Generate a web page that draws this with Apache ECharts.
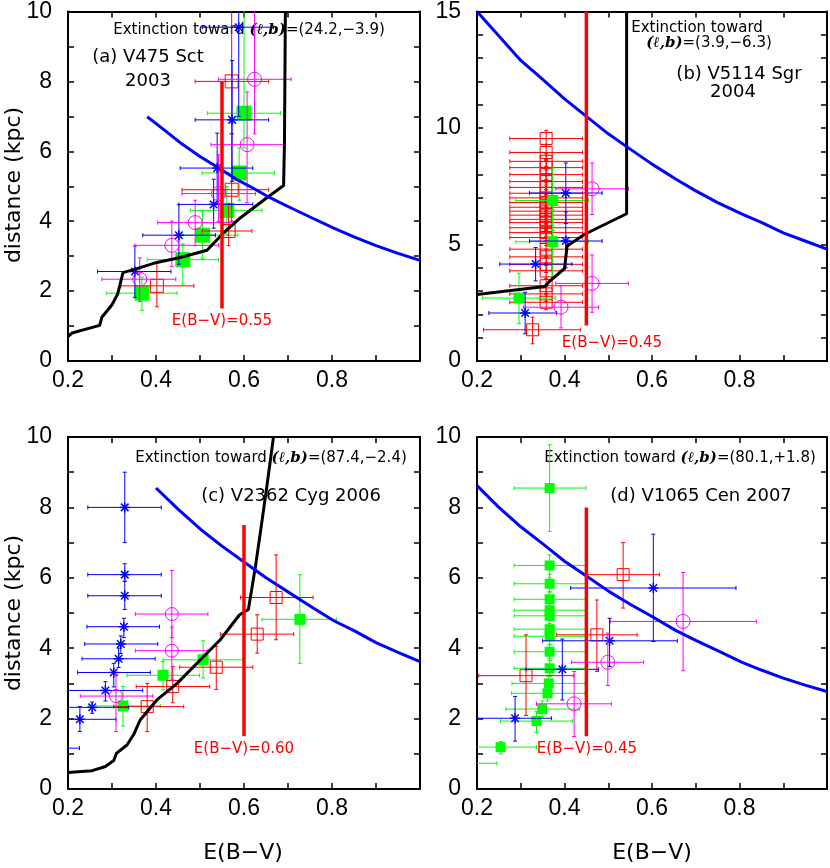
<!DOCTYPE html>
<html>
<head>
<meta charset="utf-8">
<title>Extinction vs distance</title>
<script src="https://cdn.jsdelivr.net/npm/echarts@6/dist/echarts.min.js"></script>
<style>
  *{margin:0;padding:0;}
  body{background:#fff;}
  #main{width:830px;height:868px;}
</style>
</head>
<body>
<div id="main"></div>
<script>
// rows: [E(B-V), distance, xlo, xhi, ylo, yhi]
// (a) V475 Sct
const aExt = [[0.2,0.7],[0.209,0.8],[0.272,1.02],[0.277,1.25],[0.3,1.61],[0.313,1.92],[0.325,2.53],[0.353,2.63],[0.402,2.82],[0.455,2.96],[0.516,3.17],[0.55,3.62],[0.592,4.1],[0.652,4.67],[0.69,5.02],[0.692,6.28],[0.694,10]];
const aCurve = [[0.38,6.99],[0.42,6.6],[0.46,6.2],[0.5,5.85],[0.539,5.55],[0.58,5.22],[0.62,4.95],[0.652,4.72],[0.7,4.42],[0.75,4.12],[0.804,3.8],[0.85,3.55],[0.9,3.3],[0.95,3.08],[1.0,2.88]];
const aEbv = [[0.55,1.5],[0.55,8.0]];
const aGreen = [
  [0.368,1.94,0.287,0.448,1.45,2.4],
  [0.461,2.9,0.38,0.542,2.2,3.35],
  [0.506,3.6,0.459,0.586,2.93,4.27],
  [0.561,4.31,0.478,0.641,3.6,5.0],
  [0.589,5.38,0.505,0.669,4.6,6.1],
  [0.6,7.09,0.517,0.683,6.1,10.5]
];
const aRed = [
  [0.402,2.15,0.32,0.486,1.55,2.8],
  [0.565,3.72,0.505,0.618,3.3,4.5],
  [0.572,4.9,0.459,0.656,4.0,6.5],
  [0.572,8.0,0.489,0.656,6.5,10.5]
];
const aBlue = [
  [0.352,2.56,0.267,0.434,1.82,3.29],
  [0.452,3.6,0.37,0.535,2.77,4.48],
  [0.531,4.48,0.452,0.62,3.8,5.2],
  [0.539,5.52,0.455,0.62,4.5,6.52],
  [0.573,6.9,0.489,0.656,5.14,8.6],
  [0.588,9.55,0.506,0.667,7.0,10.5]
];
const aMag = [
  [0.363,2.34,0.277,0.445,1.7,2.95],
  [0.436,3.31,0.352,0.542,2.7,4.0],
  [0.489,3.96,0.404,0.576,3.3,4.6],
  [0.542,4.79,0.459,0.626,4.0,5.9],
  [0.607,6.19,0.525,0.692,4.53,7.7],
  [0.624,8.06,0.542,0.707,6.5,10.5]
];

// (b) V5114 Sgr
const bExt = [[0.2,2.85],[0.355,3.2],[0.367,3.44],[0.4,3.97],[0.406,4.94],[0.446,5.44],[0.542,6.32],[0.542,15]];
const bCurve = [[0.2,15.0],[0.25,13.95],[0.3,12.9],[0.352,12.05],[0.4,11.25],[0.45,10.5],[0.5,9.75],[0.542,9.2],[0.6,8.45],[0.655,7.8],[0.7,7.3],[0.75,6.8],[0.806,6.3],[0.85,5.95],[0.9,5.5],[0.95,5.15],[1.0,4.8]];
const bEbv = [[0.45,1.52],[0.45,15]];
const bGreen = [
  [0.296,2.7,0.213,0.38,1.6,3.77],
  [0.373,5.12,0.289,0.455,3.6,6.5],
  [0.373,6.89,0.289,0.455,5.6,8.28]
];
const bRed = [
  [0.327,1.34,0.215,0.436,0.74,1.88],
  [0.358,2.52,0.275,0.441,2.2,2.85],
  [0.358,2.88,0.275,0.441,2.55,3.2],
  [0.358,3.23,0.275,0.441,2.9,3.55],
  [0.358,3.87,0.275,0.441,3.5,4.2],
  [0.358,4.15,0.275,0.441,3.8,4.5],
  [0.358,4.47,0.275,0.441,4.1,4.8],
  [0.358,4.8,0.275,0.441,4.45,5.15],
  [0.358,5.3,0.275,0.441,4.95,5.65],
  [0.358,5.51,0.275,0.441,5.15,5.85],
  [0.358,5.72,0.275,0.441,5.35,6.05],
  [0.358,5.94,0.275,0.441,5.6,6.3],
  [0.358,6.08,0.275,0.441,5.75,6.4],
  [0.358,6.26,0.275,0.441,5.9,6.6],
  [0.358,6.43,0.275,0.441,6.1,6.8],
  [0.358,6.6,0.275,0.441,6.25,6.95],
  [0.358,6.8,0.275,0.441,6.45,7.15],
  [0.358,7.0,0.275,0.441,6.65,7.35],
  [0.358,7.2,0.275,0.441,6.85,7.55],
  [0.358,7.45,0.275,0.441,7.1,7.8],
  [0.358,7.7,0.275,0.441,7.35,8.05],
  [0.358,8.0,0.275,0.441,7.65,8.35],
  [0.358,8.3,0.275,0.441,7.95,8.65],
  [0.358,8.57,0.275,0.441,8.2,8.9],
  [0.358,8.95,0.275,0.441,8.6,9.3],
  [0.358,9.55,0.275,0.441,9.2,9.9]
];
const bBlue = [
  [0.31,2.06,0.227,0.382,1.17,2.95],
  [0.334,4.16,0.252,0.417,3.44,4.87],
  [0.403,5.15,0.32,0.486,4.0,6.4],
  [0.403,7.21,0.32,0.486,5.9,8.5]
];
const bMag = [
  [0.392,2.31,0.306,0.478,1.42,3.23],
  [0.463,3.33,0.38,0.546,2.09,4.55],
  [0.463,7.39,0.38,0.546,6.29,8.5]
];

// (c) V2362 Cyg
const cExt = [[0.2,0.47],[0.255,0.52],[0.285,0.64],[0.304,0.81],[0.31,1.01],[0.334,1.25],[0.349,1.54],[0.364,1.96],[0.402,2.53],[0.448,3.0],[0.501,3.67],[0.546,4.24],[0.59,4.95],[0.61,5.1],[0.626,6.32],[0.637,7.27],[0.652,8.6],[0.667,10]];
const cCurve = [[0.4,8.55],[0.45,7.95],[0.501,7.38],[0.55,6.9],[0.6,6.45],[0.65,6.0],[0.7,5.6],[0.75,5.2],[0.804,4.78],[0.85,4.5],[0.9,4.16],[0.95,3.88],[1.0,3.62]];
const cEbv = [[0.6,1.5],[0.6,7.5]];
const cGreen = [
  [0.325,2.36,0.247,0.41,1.79,2.91],
  [0.416,3.23,0.334,0.499,2.82,3.62],
  [0.507,3.67,0.416,0.597,3.15,4.21],
  [0.727,4.82,0.641,0.81,3.57,6.09]
];
const cRed = [
  [0.38,2.34,0.304,0.463,1.63,3.0],
  [0.438,2.91,0.355,0.522,2.45,3.48],
  [0.537,3.46,0.454,0.62,2.83,4.05],
  [0.63,4.4,0.546,0.713,3.86,4.95],
  [0.673,5.44,0.592,0.757,4.24,6.65]
];
const cBlue = [
  [0.15,1.16,0.07,0.226,0.9,1.4],
  [0.227,1.98,0.14,0.309,1.63,2.34],
  [0.255,2.32,0.17,0.338,2.15,2.47],
  [0.285,2.8,0.19,0.37,2.5,3.05],
  [0.304,3.31,0.222,0.387,2.9,3.57],
  [0.315,3.7,0.232,0.398,3.45,4.0],
  [0.32,4.12,0.238,0.404,3.85,4.35],
  [0.327,4.61,0.243,0.408,4.3,4.85],
  [0.329,5.49,0.245,0.412,5.1,5.9],
  [0.329,6.09,0.245,0.412,5.9,6.4],
  [0.329,8.0,0.245,0.412,7.0,9.0]
];
const cMag = [
  [0.309,2.64,0.228,0.393,1.63,3.24],
  [0.436,3.93,0.353,0.518,3.1,4.6],
  [0.436,4.97,0.353,0.518,4.3,6.21]
];

// (d) V1065 Cen
const dCurve = [[0.2,8.62],[0.25,8.0],[0.3,7.45],[0.352,6.95],[0.4,6.47],[0.45,6.05],[0.503,5.6],[0.55,5.25],[0.6,4.9],[0.655,4.5],[0.7,4.22],[0.75,3.93],[0.806,3.6],[0.85,3.38],[0.9,3.15],[0.95,2.95],[1.0,2.77]];
const dEbv = [[0.45,1.5],[0.45,8.0]];
const dGreen = [
  [0.366,8.55,0.285,0.449,7.32,9.78],
  [0.366,6.35,0.285,0.449,6.0,6.65],
  [0.366,5.83,0.285,0.449,5.6,6.1],
  [0.366,5.39,0.285,0.449,5.1,5.6],
  [0.366,5.08,0.285,0.449,4.85,5.35],
  [0.366,4.92,0.285,0.449,4.7,5.15],
  [0.366,4.54,0.285,0.449,4.3,4.8],
  [0.366,4.34,0.285,0.449,4.1,4.6],
  [0.366,3.9,0.285,0.449,3.7,4.1],
  [0.366,3.43,0.285,0.449,3.2,3.65],
  [0.364,3.0,0.28,0.447,2.8,3.2],
  [0.361,2.72,0.279,0.447,2.5,2.95],
  [0.349,2.27,0.266,0.434,2.05,2.5],
  [0.336,1.93,0.254,0.418,1.6,2.2],
  [0.254,1.19,0.198,0.336,1.0,1.35],
  [0.15,0.73,0.08,0.245,0.6,0.85]
];
const dRed = [
  [0.312,3.22,0.204,0.421,2.09,4.38],
  [0.474,4.38,0.382,0.566,3.34,5.37],
  [0.534,6.09,0.449,0.617,5.14,7.0]
];
const dBlue = [
  [0.287,2.01,0.19,0.37,1.36,2.63],
  [0.395,3.4,0.312,0.478,2.53,4.26],
  [0.503,4.21,0.35,0.658,3.48,4.85],
  [0.603,5.71,0.414,0.792,4.19,7.24]
];
const dMag = [
  [0.422,2.42,0.336,0.507,1.49,3.34],
  [0.499,3.6,0.416,0.581,2.94,4.43],
  [0.671,4.76,0.505,0.839,3.36,6.15]
];

const yMaxes = [10, 15, 10, 10];
const yLabelSteps = [2, 5, 2, 2];

const chart = echarts.init(document.getElementById('main'));
const tickFont = 'Liberation Sans';
const textFont = 'DejaVu Sans';

const grids = [
  {left: 68, top: 9, width: 352, height: 352},
  {left: 477, top: 9, width: 351, height: 352},
  {left: 68, top: 437, width: 352, height: 352},
  {left: 477, top: 437, width: 351, height: 352}
];

const frame = {onZero: false, lineStyle: {color: '#000', width: 2}};
const ticks = {inside: true, length: 6, lineStyle: {color: '#000', width: 1.5}};

let xAxis = [], yAxis = [];
grids.forEach((g, i) => {
  xAxis.push({
    type: 'value', gridIndex: i, min: 0.2, max: 1.0, interval: 0.1, position: 'bottom',
    axisLine: frame, axisTick: ticks, splitLine: {show: false},
    axisLabel: {margin: 8, fontSize: 23, fontFamily: tickFont, color: '#000',
      formatter: v => { const k = Math.round(v * 10); return (k % 2 === 0 && k < 10) ? (k / 10).toFixed(1) : ''; }}
  });
  xAxis.push({
    type: 'value', gridIndex: i, min: 0.2, max: 1.0, interval: 0.1, position: 'top',
    axisLine: frame, axisTick: ticks, splitLine: {show: false}, axisLabel: {show: false}
  });
  yAxis.push({
    type: 'value', gridIndex: i, min: 0, max: yMaxes[i], interval: 1, position: 'left',
    axisLine: frame, axisTick: ticks, splitLine: {show: false},
    axisLabel: {margin: 16, fontSize: 23, fontFamily: tickFont, color: '#000',
      formatter: v => (Math.round(v) % yLabelSteps[i] === 0) ? String(Math.round(v)) : ''}
  });
  yAxis.push({
    type: 'value', gridIndex: i, min: 0, max: yMaxes[i], interval: 1, position: 'right',
    axisLine: frame, axisTick: ticks, splitLine: {show: false}, axisLabel: {show: false}
  });
});

// error bars + marker, clipped to the plot box
function makeRender(color, kind, size) {
  return function (params, api) {
    const cs = params.coordSys;
    const x0 = cs.x, x1 = cs.x + cs.width, y0 = cs.y, y1 = cs.y + cs.height;
    const p = api.coord([api.value(0), api.value(1)]);
    const l = api.coord([api.value(2), api.value(1)])[0];
    const r = api.coord([api.value(3), api.value(1)])[0];
    const b = api.coord([api.value(0), api.value(4)])[1];
    const t = api.coord([api.value(0), api.value(5)])[1];
    const kids = [];
    const seg = (ax, ay, bx, by, w) => kids.push({type: 'line', shape: {x1: ax, y1: ay, x2: bx, y2: by},
      style: {stroke: color, lineWidth: w || 1}});
    const cap = 2;
    if (p[1] >= y0 && p[1] <= y1) {
      const xa = Math.max(l, x0), xb = Math.min(r, x1);
      if (xb > xa) seg(xa, p[1], xb, p[1]);
      if (l >= x0) seg(l, p[1] - cap, l, p[1] + cap);
      if (r <= x1) seg(r, p[1] - cap, r, p[1] + cap);
    }
    if (p[0] >= x0 && p[0] <= x1) {
      const ya = Math.max(t, y0), yb = Math.min(b, y1);
      if (yb > ya) seg(p[0], ya, p[0], yb);
      if (t >= y0) seg(p[0] - cap, t, p[0] + cap, t);
      if (b <= y1) seg(p[0] - cap, b, p[0] + cap, b);
    }
    const inside = p[0] >= x0 && p[0] <= x1 && p[1] >= y0 && p[1] <= y1;
    if (inside) {
      const h = size / 2;
      if (kind === 'fill') {
        kids.push({type: 'rect', shape: {x: p[0] - h, y: p[1] - h, width: size, height: size}, style: {fill: color}});
      } else if (kind === 'box') {
        kids.push({type: 'rect', shape: {x: p[0] - h, y: p[1] - h, width: size, height: size}, style: {fill: 'none', stroke: color, lineWidth: 1}});
      } else if (kind === 'circle') {
        kids.push({type: 'circle', shape: {cx: p[0], cy: p[1], r: h}, style: {fill: 'none', stroke: color, lineWidth: 1}});
      } else {
        const d = h * 0.75;
        seg(p[0] - d, p[1] - d, p[0] + d, p[1] + d, 1.5);
        seg(p[0] - d, p[1] + d, p[0] + d, p[1] - d, 1.5);
        seg(p[0] - h, p[1], p[0] + h, p[1], 1.5);
        seg(p[0], p[1] - h, p[0], p[1] + h, 1.5);
      }
    }
    return {type: 'group', children: kids};
  };
}

function errSeries(g, data, color, kind, size) {
  return {type: 'custom', xAxisIndex: 2 * g, yAxisIndex: 2 * g, data: data,
    renderItem: makeRender(color, kind, size), silent: true, animation: false};
}
function lineSeries(g, data, color, width) {
  return {type: 'line', xAxisIndex: 2 * g, yAxisIndex: 2 * g, data: data, symbol: 'none',
    lineStyle: {color: color, width: width, join: 'round'}, silent: true, animation: false};
}

const GREEN = '#00ff00', RED = '#ff0000', BLUE = '#0000ff', MAG = '#ff00ff';

const series = [
  lineSeries(0, aExt, '#000', 3), lineSeries(0, aCurve, BLUE, 3),
  errSeries(0, aGreen, GREEN, 'fill', 15), errSeries(0, aRed, RED, 'box', 13),
  errSeries(0, aBlue, BLUE, 'ast', 10), errSeries(0, aMag, MAG, 'circle', 14),
  lineSeries(0, aEbv, RED, 3.5),

  lineSeries(1, bExt, '#000', 3), lineSeries(1, bCurve, BLUE, 3),
  errSeries(1, bRed, RED, 'box', 12), errSeries(1, bGreen, GREEN, 'fill', 11),
  errSeries(1, bBlue, BLUE, 'ast', 10), errSeries(1, bMag, MAG, 'circle', 14),
  lineSeries(1, bEbv, RED, 3.5),

  lineSeries(2, cExt, '#000', 3), lineSeries(2, cCurve, BLUE, 3),
  errSeries(2, cGreen, GREEN, 'fill', 11), errSeries(2, cRed, RED, 'box', 12),
  errSeries(2, cBlue, BLUE, 'ast', 10), errSeries(2, cMag, MAG, 'circle', 13),
  lineSeries(2, cEbv, RED, 3.5),

  lineSeries(3, dCurve, BLUE, 3),
  errSeries(3, dGreen, GREEN, 'fill', 10), errSeries(3, dRed, RED, 'box', 12),
  errSeries(3, dBlue, BLUE, 'ast', 10), errSeries(3, dMag, MAG, 'circle', 14),
  lineSeries(3, dEbv, RED, 3.5)
];

const lb = {fontFamily: 'DejaVu Serif', fontStyle: 'italic', fontWeight: 'bold', fontSize: 15, fill: '#000'};
function txt(x, y, text, size, color, extra) {
  return Object.assign({type: 'text', x: x, y: y, silent: true,
    style: {text: text, fill: color || '#000', fontSize: size, fontFamily: textFont,
      align: 'center', verticalAlign: 'middle', rich: {i: lb}}}, extra || {});
}

const graphic = [
  txt(249, 30, 'Extinction toward {i|(ℓ,b)}=(24.2,−3.9)', 15),
  txt(148, 57, '(a) V475 Sct', 18),
  txt(148, 81, '2003', 18),
  txt(222, 321, 'E(B−V)=0.55', 15, RED),

  txt(697, 28, 'Extinction toward', 15),
  txt(709, 43, '{i|(ℓ,b)}=(3.9,−6.3)', 15),
  txt(739, 74, '(b) V5114 Sgr', 18),
  txt(733, 92, '2004', 18),
  txt(612, 343, 'E(B−V)=0.45', 15, RED),

  txt(271, 458, 'Extinction toward {i|(ℓ,b)}=(87.4,−2.4)', 15),
  txt(291, 496, '(c) V2362 Cyg 2006', 18),
  txt(244, 749, 'E(B−V)=0.60', 15, RED),

  txt(680, 458, 'Extinction toward {i|(ℓ,b)}=(80.1,+1.8)', 15),
  txt(701, 496, '(d) V1065 Cen 2007', 18),
  txt(587, 749, 'E(B−V)=0.45', 15, RED),

  txt(14, 185, 'distance (kpc)', 22, '#000', {rotation: Math.PI / 2}),
  txt(14, 613, 'distance (kpc)', 22, '#000', {rotation: Math.PI / 2}),
  txt(243, 853, 'E(B−V)', 22),
  txt(652, 853, 'E(B−V)', 22)
];

chart.setOption({
  backgroundColor: '#fff',
  animation: false,
  grid: grids,
  xAxis: xAxis,
  yAxis: yAxis,
  series: series,
  graphic: graphic
});
</script>
</body>
</html>
